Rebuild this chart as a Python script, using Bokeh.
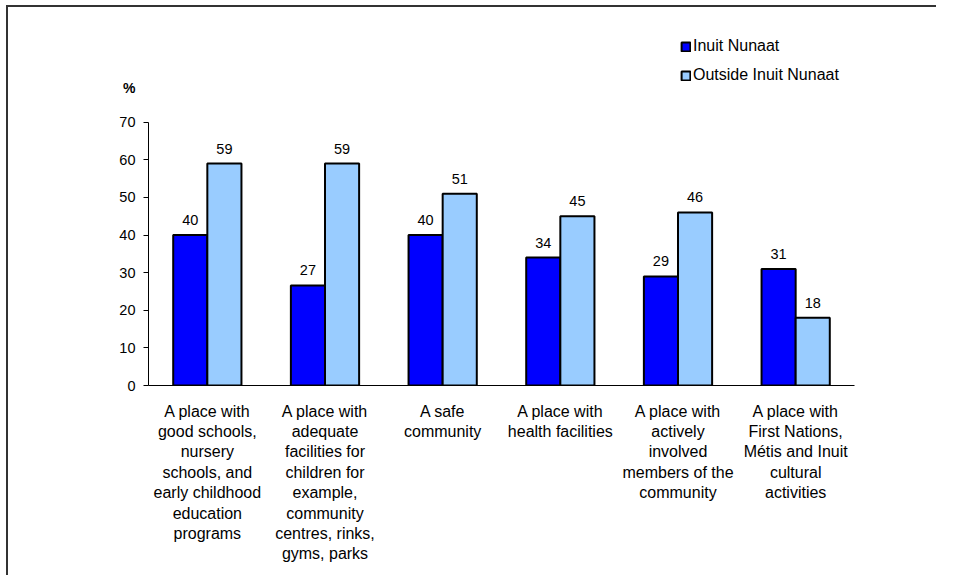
from bokeh.plotting import figure
from bokeh.models import ColumnDataSource, FactorRange, Range1d, FixedTicker, Legend, LegendItem, LinearAxis
from bokeh.transform import dodge
from bokeh.core.properties import value
from bokeh.embed import file_html
from bokeh.resources import INLINE

categories = [
    "A place with\ngood schools,\nnursery\nschools, and\nearly childhood\neducation\nprograms",
    "A place with\nadequate\nfacilities for\nchildren for\nexample,\ncommunity\ncentres, rinks,\ngyms, parks",
    "A safe\ncommunity",
    "A place with\nhealth facilities",
    "A place with\nactively\ninvolved\nmembers of the\ncommunity",
    "A place with\nFirst Nations,\nMétis and Inuit\ncultural\nactivities",
]
inuit_nunaat = [40, 26.6, 40, 34, 29, 31]
outside_inuit_nunaat = [59, 59, 51, 45, 46, 18]
series_names = ["Inuit Nunaat", "Outside Inuit Nunaat"]
y_ticks = [0, 10, 20, 30, 40, 50, 60, 70]
y_unit = "%"

FONT = "Liberation Sans"
BLUE = "#0000FF"
LIGHT = "#99CCFF"

src = ColumnDataSource(dict(
    cat=categories,
    a=inuit_nunaat,
    b=outside_inuit_nunaat,
    la=[str(round(v)) for v in inuit_nunaat],
    lb=[str(round(v)) for v in outside_inuit_nunaat],
))

p = figure(
    x_range=FactorRange(factors=categories, range_padding=0),
    y_range=Range1d(0, 99.7),
    width=930, height=570,
    min_border_left=140, min_border_right=84, min_border_top=3, min_border_bottom=192,
    output_backend="svg", toolbar_location=None,
)
p.margin = (7, 0, 0, 8)
p.styles = {"box-shadow": "-2px -2px 0 0 #333333"}
p.outline_line_color = None
p.xgrid.visible = False
p.ygrid.visible = False

bw = 0.29
ra = p.vbar(x=dodge("cat", -bw / 2, range=p.x_range), top="a", width=bw, source=src,
            fill_color=BLUE, line_color="black", line_width=2)
rb = p.vbar(x=dodge("cat", bw / 2, range=p.x_range), top="b", width=bw, source=src,
            fill_color=LIGHT, line_color="black", line_width=2)

for col, lab, off in (("a", "la", -bw / 2), ("b", "lb", bw / 2)):
    p.text(x=dodge("cat", off, range=p.x_range), y=col, text=lab, source=src,
           text_align="center", text_baseline="alphabetic", y_offset=-15,
           text_font=value(FONT), text_font_size="14.5px", text_color="black")

yax = p.yaxis[0]
yax.ticker = FixedTicker(ticks=y_ticks)
yax.bounds = (0, 70)
yax.major_tick_in = 0
yax.major_tick_out = 5
yax.minor_tick_line_color = None
yax.major_label_standoff = 8
yax.major_label_text_font = FONT
yax.major_label_text_font_size = "14.5px"
yax.major_label_text_color = "black"
yax.axis_line_color = "black"
yax.major_tick_line_color = "black"

# unit label "%" drawn as a second, line-less axis with a single tick
unit_pos = 79
pax = LinearAxis(ticker=FixedTicker(ticks=[unit_pos]),
                 major_label_overrides={unit_pos: y_unit},
                 axis_line_color=None, major_tick_line_color=None, minor_tick_line_color=None,
                 major_tick_in=0, major_tick_out=0, major_label_standoff=-19,
                 major_label_text_font=FONT, major_label_text_font_size="14px",
                 major_label_text_font_style="bold", major_label_text_color="black")
p.add_layout(pax, "left")

xax = p.xaxis[0]
xax.major_tick_line_color = None
xax.major_tick_in = 0
xax.major_tick_out = 0
xax.minor_tick_line_color = None
xax.major_label_standoff = 17
xax.major_label_text_font = FONT
xax.major_label_text_font_size = "16px"
xax.major_label_text_color = "black"
xax.major_label_text_line_height = 1.2
xax.axis_line_color = "black"

legend = Legend(
    items=[LegendItem(label=series_names[0], renderers=[ra]),
           LegendItem(label=series_names[1], renderers=[rb])],
    location=(532, 300),
    orientation="vertical",
    border_line_color=None, background_fill_alpha=0,
    padding=0, margin=0, spacing=9,
    glyph_width=11, glyph_height=11, label_height=20, label_standoff=2,
    label_text_font=FONT, label_text_font_size="16px", label_text_color="black",
)
p.add_layout(legend)

open("out.html", "w").write(file_html(p, INLINE))
